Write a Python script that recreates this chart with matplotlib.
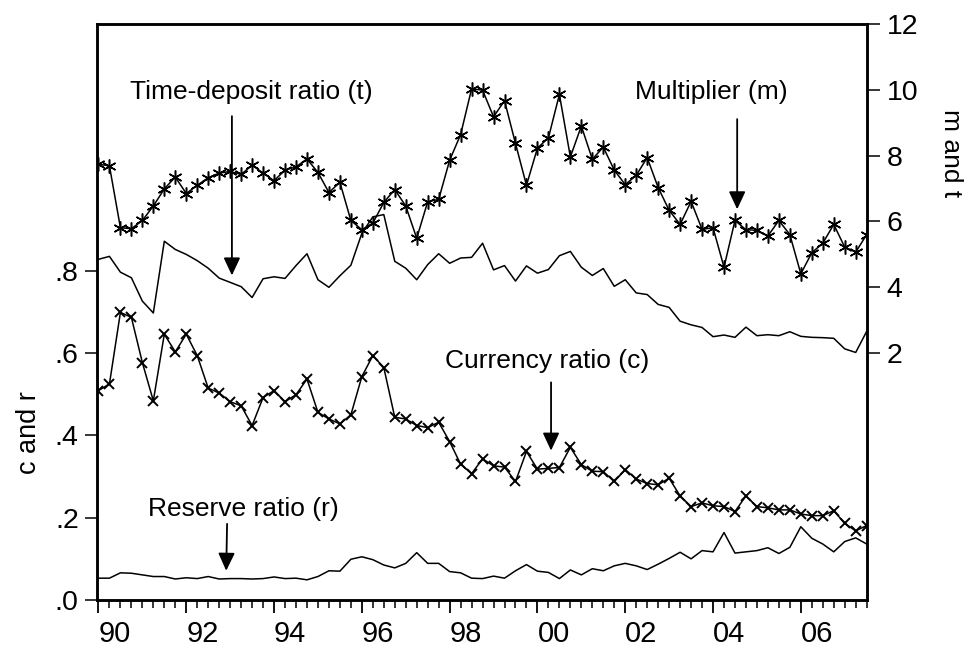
import numpy as np
import matplotlib
matplotlib.use("Agg")
import matplotlib.pyplot as plt

plt.rcParams['font.family'] = ['Liberation Sans', 'DejaVu Sans']

# Quarterly observations 1990Q1 .. 2007Q3
start_year = 1990
n_obs = 71
quarters = start_year + 0.25 * np.arange(n_obs)

# Money multiplier (m) - right axis
m_vals = [7.74, 7.69, 5.81, 5.78, 6.03, 6.47, 6.99, 7.35, 6.85, 7.10,
          7.33, 7.47, 7.52, 7.43, 7.71, 7.47, 7.24, 7.56, 7.66, 7.90,
          7.49, 6.88, 7.19, 6.03, 5.75, 5.95, 6.58, 6.97, 6.47, 5.49,
          6.60, 6.67, 7.86, 8.64, 10.03, 9.99, 9.18, 9.67, 8.37, 7.10,
          8.23, 8.54, 9.86, 7.96, 8.90, 7.89, 8.26, 7.56, 7.12, 7.40,
          7.94, 7.03, 6.34, 5.91, 6.61, 5.76, 5.81, 4.61, 6.03, 5.75,
          5.73, 5.56, 6.03, 5.60, 4.41, 5.05, 5.34, 5.91, 5.22, 5.07,
          5.60]

# Time-deposit ratio (t) - right axis
t_vals = [4.85, 4.94, 4.46, 4.29, 3.58, 3.22, 5.40, 5.15, 5.00, 4.81,
          4.58, 4.28, 4.15, 4.02, 3.69, 4.26, 4.32, 4.27, 4.66, 5.02,
          4.23, 4.00, 4.35, 4.67, 5.64, 6.14, 6.21, 4.79, 4.58, 4.23,
          4.69, 5.02, 4.73, 4.89, 4.91, 5.34, 4.53, 4.66, 4.19, 4.65,
          4.43, 4.54, 4.96, 5.09, 4.61, 4.36, 4.57, 4.03, 4.23, 3.83,
          3.78, 3.48, 3.39, 2.97, 2.86, 2.78, 2.50, 2.55, 2.48, 2.79,
          2.53, 2.56, 2.53, 2.65, 2.51, 2.48, 2.47, 2.45, 2.13, 2.02,
          2.66]

# Currency ratio (c) - left axis
c_vals = [0.509, 0.525, 0.699, 0.687, 0.577, 0.484, 0.646, 0.603, 0.646, 0.594,
          0.515, 0.503, 0.482, 0.472, 0.424, 0.492, 0.509, 0.482, 0.499, 0.537,
          0.456, 0.440, 0.428, 0.450, 0.543, 0.594, 0.565, 0.444, 0.440, 0.424,
          0.419, 0.432, 0.385, 0.330, 0.307, 0.343, 0.326, 0.323, 0.288, 0.361,
          0.318, 0.320, 0.322, 0.371, 0.329, 0.313, 0.312, 0.288, 0.317, 0.294,
          0.283, 0.280, 0.296, 0.253, 0.227, 0.236, 0.229, 0.227, 0.215, 0.253,
          0.227, 0.224, 0.219, 0.219, 0.209, 0.205, 0.205, 0.217, 0.186, 0.168,
          0.181]

# Reserve ratio (r) - left axis
r_vals = [0.053, 0.053, 0.066, 0.065, 0.061, 0.057, 0.057, 0.051, 0.054, 0.052,
          0.057, 0.051, 0.052, 0.052, 0.051, 0.052, 0.056, 0.052, 0.053, 0.049,
          0.057, 0.071, 0.070, 0.099, 0.105, 0.098, 0.085, 0.078, 0.089, 0.115,
          0.089, 0.089, 0.069, 0.066, 0.053, 0.052, 0.058, 0.053, 0.071, 0.086,
          0.070, 0.067, 0.052, 0.073, 0.061, 0.076, 0.071, 0.083, 0.089, 0.083,
          0.074, 0.087, 0.101, 0.116, 0.100, 0.120, 0.117, 0.164, 0.114, 0.117,
          0.120, 0.127, 0.113, 0.128, 0.178, 0.150, 0.136, 0.117, 0.142, 0.151,
          0.136]

left_ticks = [0.0, 0.2, 0.4, 0.6, 0.8]
left_ticklabels = ['.0', '.2', '.4', '.6', '.8']
right_ticks = [2, 4, 6, 8, 10, 12]
x_major = list(range(1990, 2007, 2))
x_ticklabels = ['90', '92', '94', '96', '98', '00', '02', '04', '06']

fig = plt.figure(figsize=(9.69, 6.54), dpi=100)
ax = fig.add_axes([0.0998, 0.0826, 0.7946, 0.8807])
ax2 = ax.twinx()

lw = 1.1
ax.plot(quarters, c_vals, color='black', lw=lw, marker='x', markersize=7,
        markeredgewidth=1.4)
ax.plot(quarters, r_vals, color='black', lw=lw)
ax2.plot(quarters, m_vals, color='black', lw=lw, marker=(6, 2, 0), markersize=10,
         markeredgewidth=1.1)
ax2.plot(quarters, t_vals, color='black', lw=lw)

ax.set_xlim(1990 - 0.04, 2007.5)
ax.set_ylim(0.0, 1.4)
ax2.set_ylim(-5.5, 12)

ax.set_yticks(left_ticks)
ax.set_yticklabels(left_ticklabels)
ax2.set_yticks(right_ticks)
ax.set_xticks(x_major)
ax.set_xticklabels(x_ticklabels, ha='left')
ax.set_xticks(np.arange(1990, 2007.51, 0.25), minor=True)

for a in (ax, ax2):
    for s in a.spines.values():
        s.set_linewidth(1.8)
ax.tick_params(axis='y', which='major', direction='out', length=8.5, width=1.1,
               labelsize=20.5, pad=4.5)
ax.tick_params(axis='x', which='major', direction='out', length=9.5, width=1.3,
               labelsize=21, pad=5)
ax.tick_params(axis='x', which='minor', direction='out', length=6, width=1.1)
ax2.tick_params(axis='y', which='major', direction='out', length=9.5, width=1.1,
                labelsize=20.5, pad=5)

ax.set_ylabel('c and r', fontsize=19.5, labelpad=12)
ax.yaxis.set_label_coords(-0.071, 0.29)
ax2.set_ylabel('m and t', fontsize=19, rotation=270, labelpad=30)
ax2.yaxis.set_label_coords(1.1245, 0.776)

arrow_props = dict(arrowstyle='-|>,head_length=0.6,head_width=0.28',
                   color='black', lw=1.3, shrinkA=0, shrinkB=0,
                   mutation_scale=18)
fs = 19

# Time-deposit ratio (right axis units)
ax2.text(1993.48, 9.92, 'Time-deposit ratio (t)', ha='center', va='center', fontsize=fs)
ax2.annotate('', xy=(1993.04, 4.36), xytext=(1993.04, 9.2), arrowprops=arrow_props)

# Multiplier (right axis units)
ax2.text(2003.96, 9.93, 'Multiplier (m)', ha='center', va='center', fontsize=fs)
ax2.annotate('', xy=(2004.55, 6.37), xytext=(2004.55, 9.11), arrowprops=arrow_props)

# Currency ratio (left axis units)
ax2.text(2000.23, 0.58, 'Currency ratio (c)', ha='center', va='center', fontsize=fs,
         transform=ax.transData)
ax2.annotate('', xy=(2000.31, 0.363), xytext=(2000.31, 0.529),
             xycoords=ax.transData, textcoords=ax.transData, arrowprops=arrow_props)

# Reserve ratio (left axis units)
ax2.text(1993.29, 0.222, 'Reserve ratio (r)', ha='center', va='center', fontsize=fs,
         transform=ax.transData)
ax2.annotate('', xy=(1992.91, 0.071), xytext=(1992.93, 0.185),
             xycoords=ax.transData, textcoords=ax.transData, arrowprops=arrow_props)

fig.savefig('out.png', dpi=100)
